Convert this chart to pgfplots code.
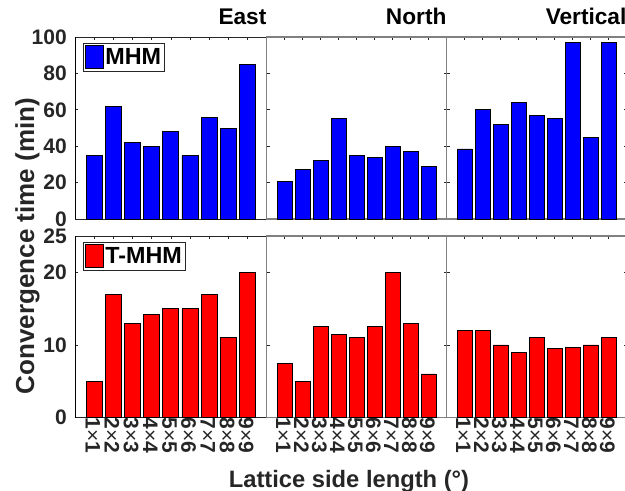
\documentclass[border=0pt]{standalone}
\usepackage{fontspec}
\setmainfont{Liberation Sans}
\usepackage{pgfplots}
\pgfplotsset{compat=1.18}
\definecolor{mblue}{RGB}{0,0,255}
\definecolor{mred}{RGB}{255,0,0}
\definecolor{txt}{RGB}{38,38,38}
\newcommand{\lab}[1]{#1{\mdseries×}#1}
\pgfplotsset{
  panel/.style={
    scale only axis, ybar, bar width=0.84,
    xmin=0, xmax=10, xtick={1,...,9}, ymin=0,
    tick align=inside, major tick length=2.25pt,
    tick style={txt, line width=0.5pt},
    /pgf/number format/assume math mode=true,
    tick label style={font=\bfseries\fontsize{15.75}{18}\selectfont, text=txt},
    yticklabel style={inner sep=0pt, xshift=-6pt},
    xticklabel style={rotate=-90, anchor=west, inner sep=0pt, yshift=-1pt},
    x axis line style={txt, line width=0.6pt},
    title style={at={(1,1)}, anchor=base east, yshift=3.4pt, inner sep=0pt,
      font=\bfseries\fontsize{17}{20}\selectfont},
    legend style={anchor=north west, draw=txt, fill=white,
      font=\bfseries\fontsize{17.5}{20}\selectfont,
      inner xsep=1.5pt, inner ysep=1.5pt, nodes={inner sep=1pt}},
  },
  leftp/.style={panel, axis x line*=box, axis y line*=left,
    y axis line style={black, line width=0.6pt}, width=143.75pt},
  otherp/.style={panel, y axis line style={black!50, line width=0.9pt},
    yticklabels={}, width=135pt},
  toprow/.style={height=136.5pt, ymax=100, ytick={0,20,...,100}, xticklabels={}},
  botrow/.style={height=136.125pt, ymax=25, ytick={0,10,20,25},
    xticklabels={\lab1,\lab2,\lab3,\lab4,\lab5,\lab6,\lab7,\lab8,\lab9}},
  mbar/.style={fill=mblue, draw=black, line width=0.6pt,
    legend image code/.code={\draw[fill=mblue, draw=black, line width=0.6pt] (0pt,-8.6pt) rectangle (13.5pt,8.6pt);}},
  rbar/.style={fill=mred, draw=black, line width=0.6pt,
    legend image code/.code={\draw[fill=mred, draw=black, line width=0.6pt] (0pt,-8.6pt) rectangle (13.5pt,8.6pt);}},
}
\begin{document}
\begin{tikzpicture}
% top row
\begin{axis}[leftp, toprow, at={(56.25pt,203.25pt)}, anchor=south west, title={East},
  legend style={at={(0.042,0.967)}}]
\addplot[mbar] coordinates {(1,35) (2,62) (3,42) (4,40) (5,48) (6,35) (7,56) (8,50) (9,85)};
\addlegendentry{MHM}
\end{axis}
\begin{axis}[otherp, toprow, at={(200pt,203.25pt)}, anchor=south west, title={North}]
\addplot[mbar] coordinates {(1,20.5) (2,27) (3,32) (4,55) (5,35) (6,34) (7,40) (8,37) (9,29)};
\end{axis}
\begin{axis}[otherp, toprow, at={(335pt,203.25pt)}, anchor=south west, title={Vertical}]
\addplot[mbar] coordinates {(1,38.5) (2,60) (3,52) (4,64) (5,57) (6,55) (7,97) (8,45) (9,97)};
\end{axis}
% bottom row
\begin{axis}[leftp, botrow, at={(56.25pt,54.375pt)}, anchor=south west,
  legend style={at={(0.042,0.967)}}]
\addplot[rbar] coordinates {(1,5) (2,17) (3,13) (4,14.2) (5,15) (6,15) (7,17) (8,11) (9,20)};
\addlegendentry{T-MHM}
\end{axis}
\begin{axis}[otherp, botrow, at={(200pt,54.375pt)}, anchor=south west]
\addplot[rbar] coordinates {(1,7.5) (2,5) (3,12.5) (4,11.5) (5,11) (6,12.5) (7,20) (8,13) (9,6)};
\end{axis}
\begin{axis}[otherp, botrow, at={(335pt,54.375pt)}, anchor=south west]
\addplot[rbar] coordinates {(1,12) (2,12) (3,10) (4,9) (5,11) (6,9.5) (7,9.7) (8,10) (9,11)};
\end{axis}
\node[rotate=90, anchor=base, text=txt, font=\bfseries\fontsize{19.5}{22}\selectfont]
  at (25.5pt,183pt) {Convergence time (min)};
\node[anchor=base, text=txt, font=\bfseries\fontsize{17.8}{21}\selectfont]
  at (261.75pt,2.25pt) {Lattice side length (°)};
\pgfresetboundingbox
\useasboundingbox (0,0) rectangle (468.75pt,367.5pt);
\end{tikzpicture}
\end{document}
